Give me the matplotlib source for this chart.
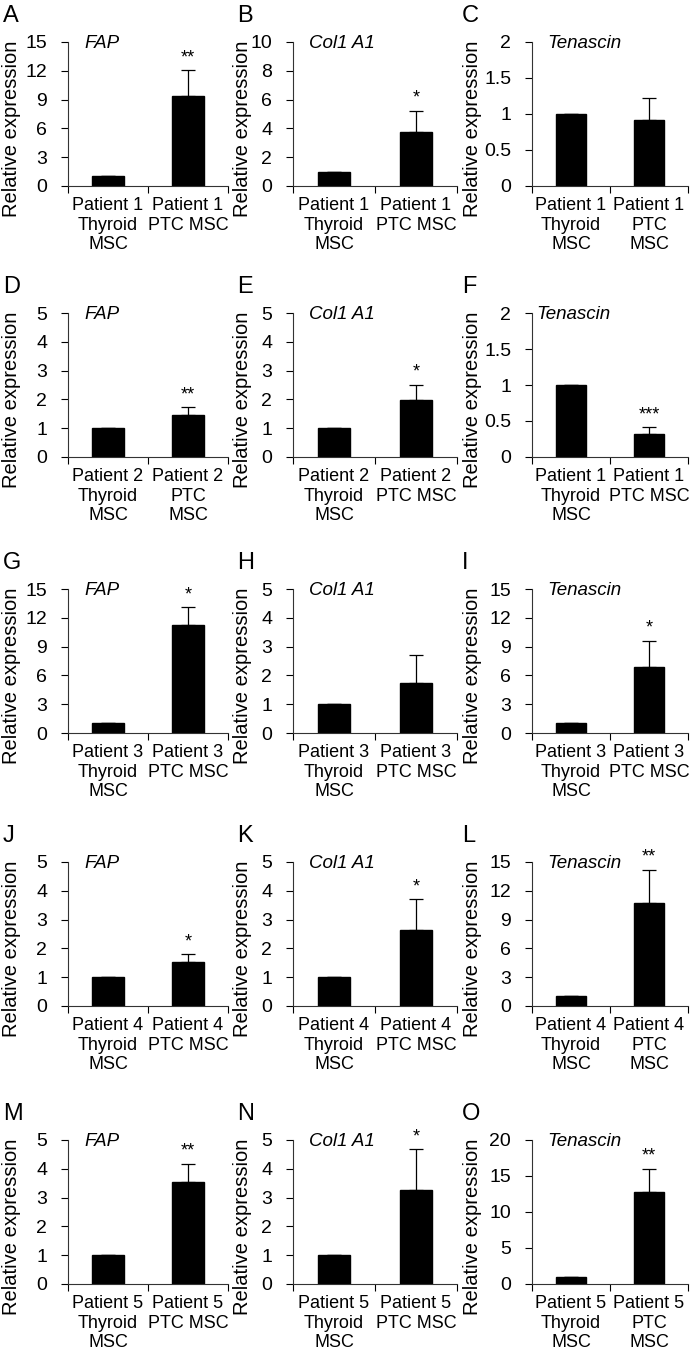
import matplotlib
matplotlib.use('Agg')
import matplotlib.pyplot as plt
import numpy as np

plt.rcParams['font.family'] = ['Liberation Sans', 'DejaVu Sans']

# panel data, read left->right, top->bottom
letters = ['A', 'B', 'C', 'D', 'E', 'F', 'G', 'H', 'I', 'J', 'K', 'L', 'M', 'N', 'O']
genes = ['FAP', 'Col1 A1', 'Tenascin'] * 5
patients = [1, 1, 1, 2, 2, 1, 3, 3, 3, 4, 4, 4, 5, 5, 5]
ctrl_vals = [1.0] * 15
ptc_vals = [9.35, 3.75, 0.92, 1.47, 1.97, 0.32, 11.3, 1.75, 6.9, 1.53, 2.65, 10.7, 3.55, 3.27, 12.8]
ptc_err = [2.7, 1.45, 0.30, 0.25, 0.53, 0.09, 1.8, 0.95, 2.7, 0.27, 1.05, 3.5, 0.62, 1.41, 3.2]
stars = ['**', '*', '', '**', '*', '***', '*', '', '*', '*', '*', '**', '**', '*', '**']
y_max = [15, 10, 2, 5, 5, 2, 15, 5, 15, 5, 5, 15, 5, 5, 20]
y_step = [3, 2, 0.5, 1, 1, 0.5, 3, 1, 3, 1, 1, 3, 1, 1, 5]
# whether "PTC MSC" wraps onto two lines
ptc_wrap = [False, False, True, True, False, False, False, False, False,
            False, False, True, False, False, True]

W, H = 697, 1372
fig = plt.figure(figsize=(W / 100, H / 100), dpi=100)

row_top = [42, 313, 589, 862, 1140]
ax_h = 144
col_left = [68, 293, 532]
col_w = [160, 164, 156]
ylab_off = [-56, -51, -60]
letter_off = [65, 56, 70]

for i in range(15):
    r, c = divmod(i, 3)
    left, top = col_left[c], row_top[r]
    ax = fig.add_axes([left / W, 1 - (top + ax_h) / H, col_w[c] / W, ax_h / H])

    vals = [ctrl_vals[i], ptc_vals[i]]
    err = [[0, 0], [0, ptc_err[i]]]
    ax.bar([0, 1], vals, width=0.39, color='black', edgecolor='black')
    ax.errorbar([0, 1], vals, yerr=err, fmt='none', ecolor='black',
                elinewidth=0.9, capsize=5, capthick=0.9)

    ax.set_xlim(-0.5, 1.5)
    ax.set_ylim(0, y_max[i])
    ticks = np.arange(0, y_max[i] + 1e-9, y_step[i])
    ax.set_yticks(ticks)
    ax.set_yticklabels(['%g' % t for t in ticks])

    p = patients[i]
    ptc_txt = 'Patient %d\nPTC\nMSC' % p if ptc_wrap[i] else 'Patient %d\nPTC MSC' % p
    ax.set_xticks([0, 1])
    ax.set_xticklabels(['Patient %d\nThyroid\nMSC' % p, ptc_txt], va='top')
    ax.set_xticks([-0.5, 0.5, 1.5], minor=True)
    ax.tick_params(axis='x', which='major', length=0, pad=8, labelsize=13)
    ax.tick_params(axis='x', which='minor', length=5, width=0.8, direction='out')
    ax.tick_params(axis='y', length=5, width=0.8, direction='out', pad=10, labelsize=14)

    for s in ['top', 'right']:
        ax.spines[s].set_visible(False)
    for s in ['left', 'bottom']:
        ax.spines[s].set_linewidth(0.8)
        ax.spines[s].set_color('#333333')

    ax.set_ylabel('Relative expression', fontsize=14.5)
    ax.yaxis.label.set_verticalalignment('center')
    ax.yaxis.set_label_coords(ylab_off[c] / col_w[c], 0.4)

    tx = 0.03 if letters[i] == 'F' else 0.1
    ax.text(tx, 0.99, genes[i], transform=ax.transAxes, style='italic',
            fontsize=13.5, ha='left', va='center')

    if stars[i]:
        ax.annotate(stars[i], (1, vals[1] + ptc_err[i]), xytext=(0, 3),
                    textcoords='offset points', ha='center', va='bottom', fontsize=13)

    fig.text((left - letter_off[c]) / W, 1 - (top - 26) / H, letters[i],
             fontsize=17, ha='left', va='center')

fig.savefig('out.png', dpi=100)
